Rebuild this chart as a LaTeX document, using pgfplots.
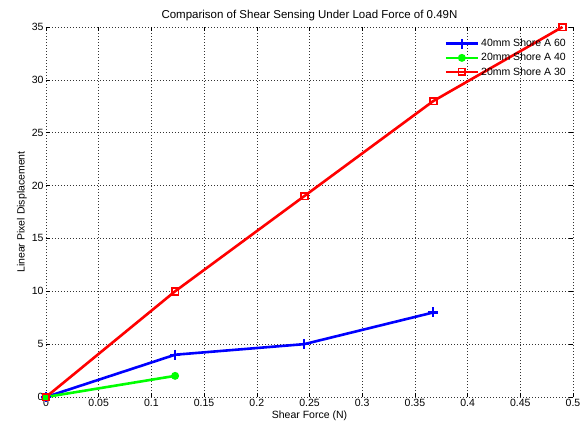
\documentclass[border=0pt]{standalone}
\usepackage{fontspec}
\setmainfont{Liberation Sans}
\usepackage{pgfplots}
\pgfplotsset{compat=1.18}

\begin{document}
\begin{tikzpicture}[font=\fontsize{10.5}{12}\selectfont]
\begin{axis}[at={(0pt,0pt)},anchor=south west,
  width=527pt,height=370pt,scale only axis,
  xmin=0,xmax=0.5,ymin=0,ymax=35,
  xtick={0,0.05,...,0.5},ytick={0,5,...,35},
  xticklabels={0,0.05,0.1,0.15,0.2,0.25,0.3,0.35,0.4,0.45,0.5},
  /pgf/number format/assume math mode=true,
  axis line style={draw=none},
  tick align=inside,major tick length=4pt,
  tick style={black,line width=0.5pt},
  grid=major,
  major grid style={black!80,line width=0.5pt,dash pattern=on 1pt off 2pt},
  xticklabel style={yshift=1pt},
  yticklabel style={xshift=1pt},
  title={Comparison of Shear Sensing Under Load Force of 0.49N},
  title style={yshift=-3pt,font=\fontsize{11.5}{13}\selectfont},
  xlabel={Shear Force (N)},
  ylabel={Linear Pixel Displacement},
  xlabel style={yshift=3pt},
  ylabel style={yshift=-2pt},
  legend style={at={(1,1)},anchor=north east,draw=none,fill=none,
    xshift=-2pt,yshift=-8pt,row sep=1pt,
    font=\fontsize{10.5}{12}\selectfont},
  legend cell align=left,
  legend image code/.code={\draw[mark repeat=2,mark phase=2]
    plot coordinates {(0pt,0pt)(16pt,0pt)(32pt,0pt)};},
  clip=false]
  \addplot[blue,line width=2.6pt,mark=+,mark size=5pt,
    mark options={line width=2.2pt}]
    coordinates {(0,0)(0.1225,4)(0.245,5)(0.3675,8)};
  \addlegendentry{40mm Shore A 60}
  \addplot[green,line width=2.6pt,mark=*,mark size=2.6pt]
    coordinates {(0,0)(0.1225,2)};
  \addlegendentry{20mm Shore A 40}
  \addplot[red,line width=2.6pt,mark=square,mark size=3.4pt,
    mark options={line width=1.8pt}]
    coordinates {(0,0)(0.1225,10)(0.245,19)(0.3675,28)(0.49,35)};
  \addlegendentry{20mm Shore A 30}
\end{axis}
\useasboundingbox (-46pt,-32pt) rectangle (538pt,397pt);
\end{tikzpicture}
\end{document}
